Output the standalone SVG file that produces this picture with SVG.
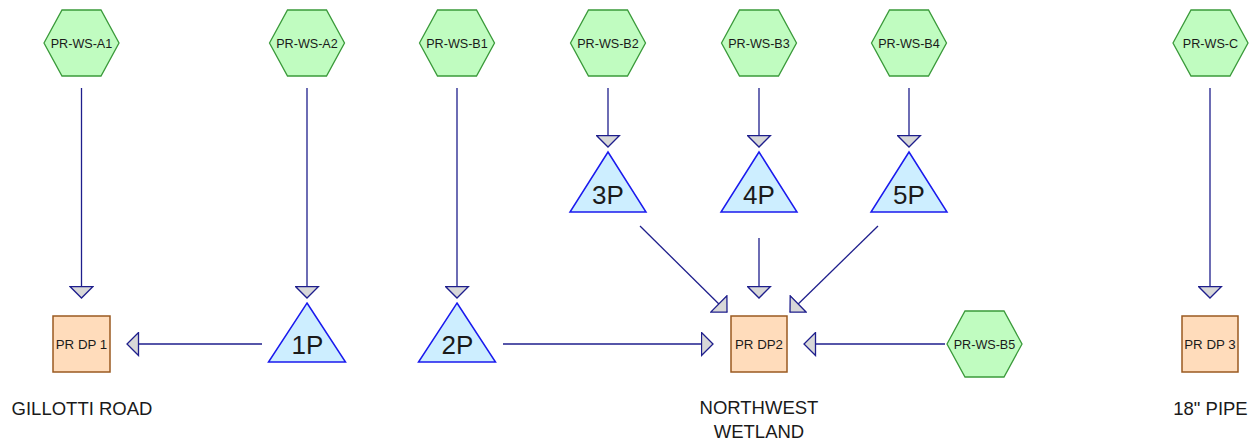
<svg xmlns="http://www.w3.org/2000/svg" width="1259" height="444" viewBox="0 0 1259 444">
<style>
.hex{fill:#c0fcc0;stroke:#3a9a3a;stroke-width:1.3}
.tri{fill:#cdeeff;stroke:#1a1aee;stroke-width:1.5}
.box{fill:#ffdcbb;stroke:#9a5a20;stroke-width:1.5}
.conn{stroke:#1e1e8c;stroke-width:1.3;fill:none;marker-end:url(#arr)}
text{font-family:"Liberation Sans",Arial,sans-serif;fill:#1a1a1a;text-anchor:middle}
.hl{font-size:12.6px}
.bl{font-size:13.3px}
.tl{font-size:26px}
.lab{font-size:18.5px}
</style>
<defs>
<marker id="arr" markerUnits="userSpaceOnUse" markerWidth="14" markerHeight="25" refX="12.5" refY="12.5" orient="auto" viewBox="0 0 14 25">
<path d="M1,1 L12.5,12.5 L1,24 Z" fill="#d8d8d8" stroke="#1e1e8c" stroke-width="1.3"/>
</marker>
<polygon id="hx" points="-37.5,0 -19.5,-33 19.5,-33 37.5,0 19.5,33 -19.5,33"/>
</defs>
<g id="connectors">
<line class="conn" x1="81.5" y1="88" x2="81.5" y2="298"/>
<line class="conn" x1="307" y1="88" x2="307" y2="298"/>
<line class="conn" x1="457" y1="88" x2="457" y2="298"/>
<line class="conn" x1="608" y1="88" x2="608" y2="147"/>
<line class="conn" x1="759" y1="88" x2="759" y2="147"/>
<line class="conn" x1="909" y1="88" x2="909" y2="147"/>
<line class="conn" x1="1210" y1="88" x2="1210" y2="298"/>
<line class="conn" x1="262" y1="344" x2="127" y2="344"/>
<line class="conn" x1="503" y1="344" x2="713" y2="344"/>
<line class="conn" x1="640" y1="226" x2="727" y2="312"/>
<line class="conn" x1="759" y1="238" x2="759" y2="298"/>
<line class="conn" x1="878" y1="226" x2="790" y2="312"/>
<line class="conn" x1="945" y1="344" x2="804" y2="344"/>
</g>
<g id="PR-WS-A1"><use href="#hx" class="hex" x="81.5" y="43"/><text class="hl" x="81.5" y="47.5">PR-WS-A1</text></g>
<g id="PR-WS-A2"><use href="#hx" class="hex" x="307" y="43"/><text class="hl" x="307" y="47.5">PR-WS-A2</text></g>
<g id="PR-WS-B1"><use href="#hx" class="hex" x="457" y="43"/><text class="hl" x="457" y="47.5">PR-WS-B1</text></g>
<g id="PR-WS-B2"><use href="#hx" class="hex" x="608" y="43"/><text class="hl" x="608" y="47.5">PR-WS-B2</text></g>
<g id="PR-WS-B3"><use href="#hx" class="hex" x="759" y="43"/><text class="hl" x="759" y="47.5">PR-WS-B3</text></g>
<g id="PR-WS-B4"><use href="#hx" class="hex" x="909" y="43"/><text class="hl" x="909" y="47.5">PR-WS-B4</text></g>
<g id="PR-WS-C"><use href="#hx" class="hex" x="1210.5" y="43"/><text class="hl" x="1210.5" y="47.5">PR-WS-C</text></g>
<g id="PR-WS-B5"><use href="#hx" class="hex" x="984.5" y="344"/><text class="hl" x="984.5" y="348.5">PR-WS-B5</text></g>
<g id="P3"><polygon class="tri" points="608,152 646,212 570,212"/><text class="tl" x="608" y="204">3P</text></g>
<g id="P4"><polygon class="tri" points="759,152 797,212 721,212"/><text class="tl" x="759" y="204">4P</text></g>
<g id="P5"><polygon class="tri" points="909,152 947,212 871,212"/><text class="tl" x="909" y="204">5P</text></g>
<g id="P1"><polygon class="tri" points="307,303 345.5,362 268.5,362"/><text class="tl" x="307.5" y="354">1P</text></g>
<g id="P2"><polygon class="tri" points="457,303 495.5,362 418.5,362"/><text class="tl" x="457.5" y="354">2P</text></g>
<g id="DP1"><rect class="box" x="53" y="316" width="57" height="56"/><text class="bl" x="81.5" y="348.5">PR DP 1</text></g>
<g id="DP2"><rect class="box" x="731" y="316" width="56" height="56"/><text class="bl" x="759" y="348.5">PR DP2</text></g>
<g id="DP3"><rect class="box" x="1182" y="316" width="56" height="56"/><text class="bl" x="1210" y="348.5">PR DP 3</text></g>
<g id="labels">
<text class="lab" x="82" y="415">GILLOTTI ROAD</text>
<text class="lab" x="759" y="414">NORTHWEST</text>
<text class="lab" x="759" y="438">WETLAND</text>
<text class="lab" x="1210.5" y="415">18" PIPE</text>
</g>
</svg>
